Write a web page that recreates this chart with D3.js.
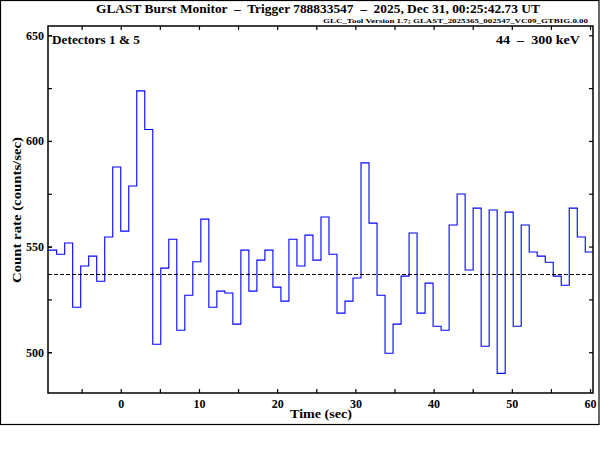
<!DOCTYPE html>
<html><head><meta charset="utf-8">
<script src="https://cdn.jsdelivr.net/npm/d3@7"></script>
<style>body{margin:0;background:#fff}svg{display:block}text{font-family:"Liberation Serif","DejaVu Serif",serif;font-weight:bold;white-space:pre}</style>
</head><body><svg id="c" width="600" height="450"></svg>
<script>
const titleText = "GLAST Burst Monitor  \u2013  Trigger 788833547  \u2013  2025, Dec 31, 00:25:42.73 UT";
const subtitleText = "GLC_Tool Version 1.7; GLAST_2025365_002547_VC09_GTBIG.0.00";
const detectorLabel = "Detectors 1 & 5";
const energyLabel = "44  \u2013  300 keV";
const xLabel = "Time (sec)";
const yLabel = "Count rate (counts/sec)";
const xTicks = [0, 10, 20, 30, 40, 50, 60];
const xMinorTicks = [-5, 5, 15, 25, 35, 45, 55];
const yTicks = [500, 550, 600, 650];
const yMinorTicks = [500, 525, 550, 575, 600, 625, 650];
const background = 536.8;
const binStart = [-9.216,-8.192,-7.168,-6.144,-5.120,-4.096,-3.072,-2.048,-1.024,0.000,
 1.024,2.048,3.072,4.096,5.120,6.144,7.168,8.192,9.216,10.240,
 11.264,12.288,13.312,14.336,15.360,16.384,17.408,18.432,19.456,20.480,
 21.504,22.528,23.552,24.576,25.600,26.624,27.648,28.672,29.696,30.720,
 31.744,32.768,33.792,34.816,35.840,36.864,37.888,38.912,39.936,40.960,
 41.984,43.008,44.032,45.056,46.080,47.104,48.128,49.152,50.176,51.200,
 52.224,53.248,54.272,55.296,56.320,57.344,58.368,59.392];
const binEnd = 60.416;
const rates = [548.3,546.4,551.7,521.3,540.8,545.5,533.6,554.5,587.7,557.3,
 578.7,623.7,605.4,503.8,539.8,553.5,510.4,527.0,542.8,563.0,
 521.3,528.9,528.0,513.3,548.3,528.9,543.6,548.3,530.8,524.2,
 553.5,540.8,555.4,543.6,564.0,546.4,518.5,524.2,535.1,589.6,
 561.1,527.0,499.5,513.3,536.0,556.4,518.5,532.7,512.3,510.4,
 560.2,574.9,538.9,568.2,502.8,567.3,490.0,566.3,512.3,560.2,
 547.4,545.5,542.6,536.0,531.7,568.2,554.5,547.4];

const svg = d3.select("#c");
const L = 48, R = 593, T = 26, B = 393;
const x = d3.scaleLinear().domain([-9.3, 60.38]).range([L, R]);
const y = d3.scaleLinear().domain([480.7, 654.4]).range([B, T]);

// outer border
svg.append("rect").attr("x",0.5).attr("y",0.5).attr("width",598.5).attr("height",424)
  .attr("fill","none").attr("stroke","#000").attr("stroke-width",1.2);

svg.append("text").attr("x",318).attr("y",13).attr("text-anchor","middle")
  .attr("font-size",12.5).attr("textLength",444).attr("lengthAdjust","spacingAndGlyphs").text(titleText);
svg.append("text").attr("x",588).attr("y",23).attr("text-anchor","end")
  .attr("font-size",7).attr("textLength",265).attr("lengthAdjust","spacingAndGlyphs").text(subtitleText);

svg.append("defs").append("clipPath").attr("id","clip").append("rect")
  .attr("x",L).attr("y",T).attr("width",R-L).attr("height",B-T);

const pts = binStart.map((t,i)=>[t, rates[i]]);
pts.push([binEnd, rates[rates.length-1]]);
const line = d3.line().x(d=>x(d[0])).y(d=>y(d[1])).curve(d3.curveStepAfter);
svg.append("path").attr("d", line(pts)).attr("clip-path","url(#clip)")
  .attr("fill","none").attr("stroke","#0000ff").attr("stroke-width",1.1);

svg.append("line").attr("x1",L).attr("x2",R).attr("y1",y(background)).attr("y2",y(background))
  .attr("stroke","#000").attr("stroke-width",1).attr("stroke-dasharray","4,2");

// axes
const fs = 12;
const ax = svg.append("g").attr("transform",`translate(0,${B})`)
  .call(d3.axisBottom(x).tickValues(xTicks).tickSizeInner(-4).tickSizeOuter(0).tickPadding(6).tickFormat(d3.format("d")));
const axm = svg.append("g").attr("transform",`translate(0,${B})`)
  .call(d3.axisBottom(x).tickValues(xMinorTicks).tickSizeInner(-4).tickSizeOuter(0).tickFormat(""));
const axt = svg.append("g").attr("transform",`translate(0,${T})`)
  .call(d3.axisTop(x).tickValues(xTicks.concat(xMinorTicks)).tickSizeInner(-4).tickSizeOuter(0).tickFormat(""));
const ay = svg.append("g").attr("transform",`translate(${L},0)`)
  .call(d3.axisLeft(y).tickValues(yTicks).tickSizeInner(-4).tickSizeOuter(0).tickPadding(4).tickFormat(d3.format("d")));
const aym = svg.append("g").attr("transform",`translate(${L},0)`)
  .call(d3.axisLeft(y).tickValues(yMinorTicks).tickSizeInner(-4).tickSizeOuter(0).tickFormat(""));
const ayr = svg.append("g").attr("transform",`translate(${R},0)`)
  .call(d3.axisRight(y).tickValues(yMinorTicks).tickSizeInner(-4).tickSizeOuter(0).tickFormat(""));
[ax,axm,axt,ay,aym,ayr].forEach(g=>{
  g.select(".domain").remove();
  g.selectAll("line").attr("stroke","#000").attr("stroke-width",1.2);
  g.selectAll("text").attr("font-size",fs).attr("fill","#000")
   .style("font-family","'Liberation Serif',serif").style("font-weight","bold");
});
svg.append("rect").attr("x",L).attr("y",T).attr("width",R-L).attr("height",B-T)
  .attr("fill","none").attr("stroke","#000").attr("stroke-width",1.5);

svg.append("text").attr("x",52).attr("y",44).attr("font-size",12)
  .attr("textLength",88).attr("lengthAdjust","spacingAndGlyphs").text(detectorLabel);
svg.append("text").attr("x",580).attr("y",44).attr("text-anchor","end").attr("font-size",12)
  .attr("textLength",84).attr("lengthAdjust","spacingAndGlyphs").text(energyLabel);
svg.append("text").attr("x",321).attr("y",418).attr("text-anchor","middle").attr("font-size",12.5)
  .attr("textLength",62).attr("lengthAdjust","spacingAndGlyphs").text(xLabel);
svg.append("text").attr("transform",`translate(21,210) rotate(-90)`).attr("text-anchor","middle")
  .attr("font-size",12.5).attr("textLength",146).attr("lengthAdjust","spacingAndGlyphs").text(yLabel);
</script></body></html>
